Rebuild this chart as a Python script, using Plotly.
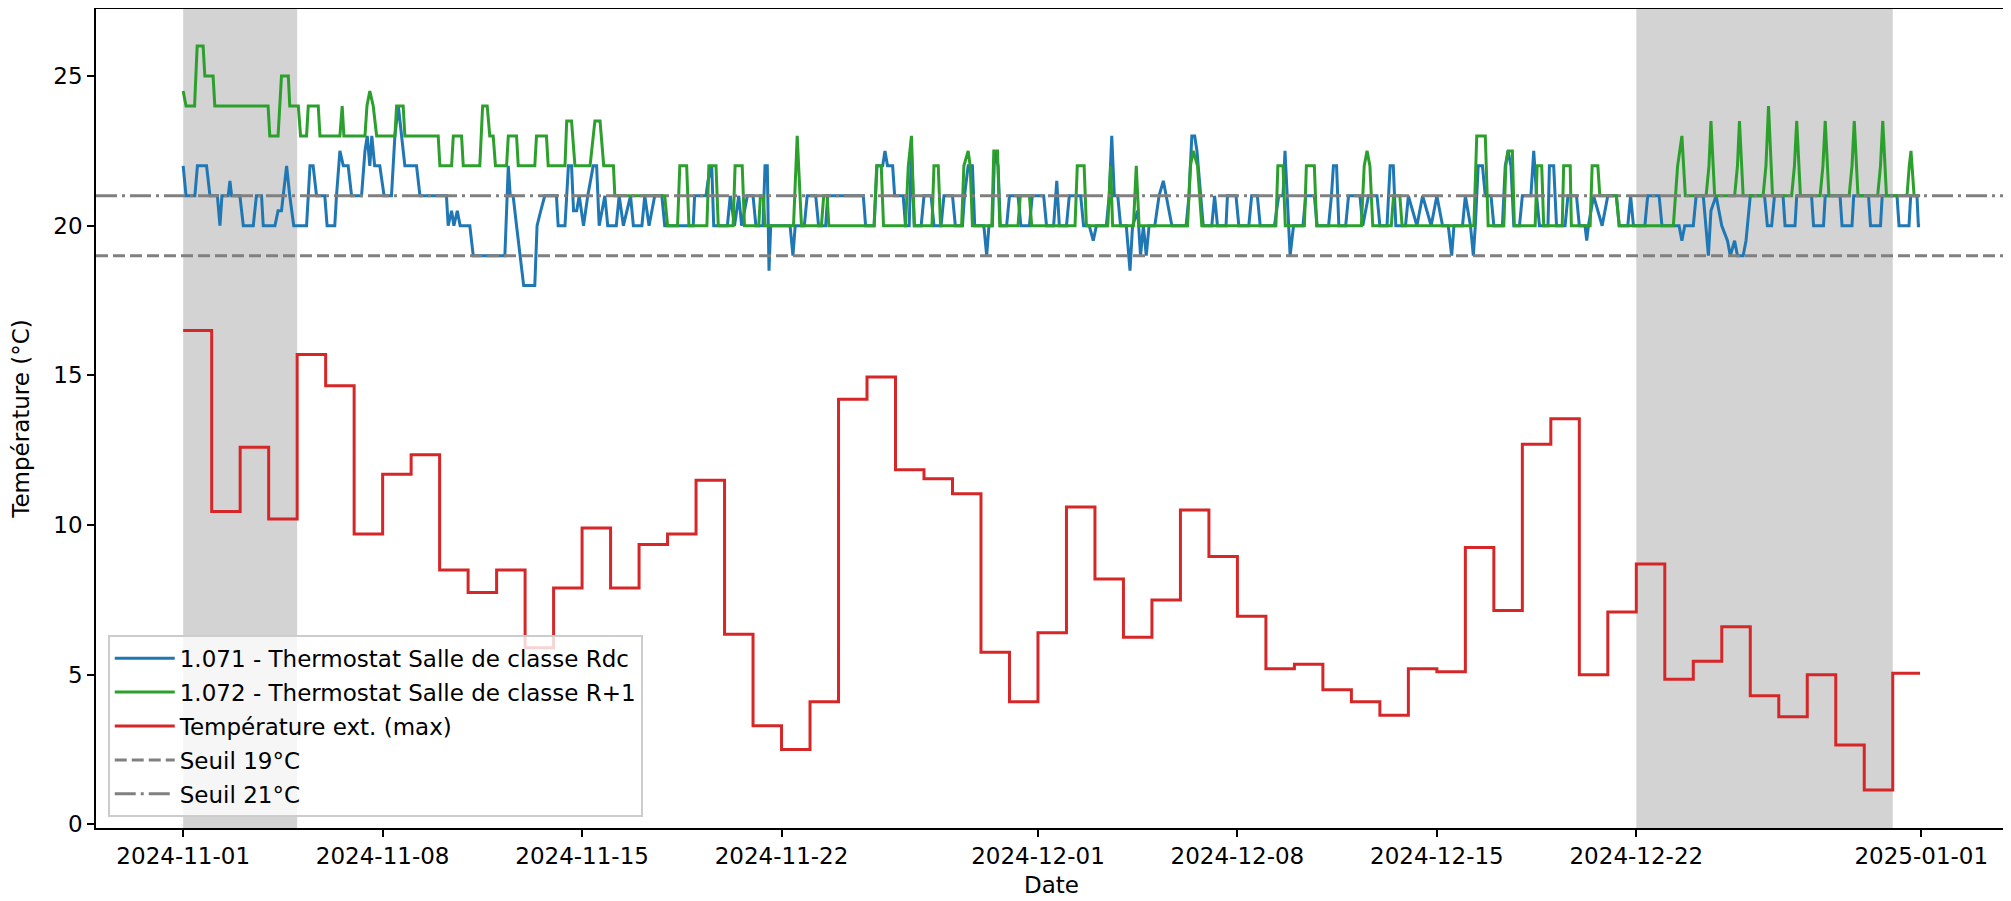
import pandas as pd
import plotly.graph_objects as go

START = pd.Timestamp("2024-11-01")

# (day offset from 2024-11-01, temperature °C)
rdc_points = [
    (0.00,22),(0.10,21),(0.41,21),(0.50,22),(0.82,22),(0.94,21),(1.20,21),(1.29,20),(1.36,21),(1.58,21),
    (1.64,21.5),(1.70,21),(1.99,21),(2.11,20),(2.46,20),(2.57,21),(2.75,21),(2.81,20),(3.22,20),(3.33,20.5),
    (3.45,20.5),(3.63,22),(3.74,21),(3.88,20),(4.33,20),(4.39,21),(4.45,22),(4.56,22),(4.68,21),(4.97,21),
    (5.05,20),(5.32,20),(5.38,21),(5.50,22.5),(5.62,22),(5.79,22),(5.91,21),(6.26,21),(6.38,22.5),(6.46,23),
    (6.55,22),(6.62,23),(6.72,22),(6.90,22),(7.05,21),(7.31,21),(7.43,23),(7.55,24),(7.66,23),(7.78,22),
    (8.19,22),(8.31,21),(9.24,21),(9.30,20),(9.42,20.5),(9.50,20),(9.62,20.5),(9.72,20),(10.06,20),(10.18,19),
    (11.29,19),(11.36,21),(11.41,22),(11.48,21),(11.58,21),(11.70,20),(11.82,19),(11.95,18),(12.34,18),(12.42,20),
    (12.55,20.5),(12.69,21),(13.10,21),(13.16,20),(13.40,20),(13.52,22),(13.63,22),(13.70,20.5),(13.81,20.5),(13.90,21),
    (14.05,20),(14.20,21),(14.39,22),(14.51,22),(14.60,20),(14.80,21),(14.90,20),(15.20,20),(15.30,21),(15.45,20),
    (15.70,21),(15.80,20),(16.10,20),(16.20,21),(16.35,20),(16.55,21),(16.80,21),(16.90,20),(17.90,20),(17.95,21),
    (18.35,21),(18.42,21.5),(18.55,22),(18.62,20),(19.10,20),(19.20,21),(19.35,20),(19.50,21),(19.60,20),(19.80,21),
    (20.00,21),(20.10,20),(20.35,20),(20.42,22),(20.50,22),(20.56,18.5),(20.62,20),(21.30,20),(21.40,19),(21.48,20),
    (21.80,20),(21.90,21),(22.20,21),(22.30,20),(22.55,20),(22.62,21),(23.87,21),(23.95,20),(24.25,20),(24.35,22),
    (24.55,22),(24.63,22.5),(24.72,22),(24.90,22),(24.97,21),(25.27,21),(25.35,20),(25.48,20),(25.56,22.5),(25.66,20),
    (25.90,20),(26.00,21),(26.25,21),(26.35,20),(26.60,20),(26.70,21),(27.00,21),(27.10,20),(27.35,20),(27.42,21),
    (27.55,22),(27.70,22),(27.78,20),(28.10,20),(28.20,19),(28.28,20),(28.40,20),(28.48,22.5),(28.60,22),(28.68,20),
    (28.90,20),(29.00,21),(29.30,21),(29.40,20),(29.70,20),(29.80,21),(30.20,21),(30.30,20),(30.55,20),(30.66,21.5),
    (30.75,20),(31.00,20),(31.10,21),(31.50,21),(31.60,20),(31.80,20),(31.94,19.5),(32.05,20),(32.40,20),(32.50,21),
    (32.59,23),(32.68,21),(32.80,21),(32.90,20),(33.10,20),(33.23,18.5),(33.32,20),(33.50,20.5),(33.60,19),(33.70,20),
    (33.80,19),(33.90,20),(34.10,20),(34.25,21),(34.40,21.5),(34.50,21),(34.70,20),(35.20,20),(35.30,21),(35.40,23),
    (35.50,23),(35.58,22.5),(35.70,21),(35.80,20),(36.10,20),(36.20,21),(36.30,20),(36.60,20),(36.65,21),(36.95,21),
    (37.05,20),(37.40,20),(37.50,21),(37.70,21),(37.80,20),(38.30,20),(38.45,21),(38.60,21),(38.67,22.5),(38.75,21),
    (38.85,19),(38.97,20),(39.30,20),(39.40,21),(39.70,21),(39.80,20),(40.20,20),(40.30,21),(40.37,22),(40.48,22),
    (40.56,20),(40.80,20),(40.90,21),(41.30,21),(41.40,20),(41.60,21),(41.90,21),(42.00,20),(42.25,20),(42.36,22),
    (42.47,22),(42.56,20),(42.90,20),(43.00,21),(43.30,20),(43.50,21),(43.80,20),(44.00,21),(44.20,20),(44.40,20),
    (44.52,19),(44.60,20),(44.90,20),(45.00,21),(45.18,20),(45.28,19),(45.35,20),(45.45,22),(45.60,22),(45.70,21),
    (45.90,21),(46.00,20),(46.30,20),(46.40,22),(46.50,22.5),(46.60,22),(46.70,20),(46.90,20),(47.00,21),(47.30,21),
    (47.40,22.5),(47.50,21),(47.60,20),(47.90,20),(47.95,22),(48.10,22),(48.20,20),(48.50,20),(48.60,21),(48.90,21),
    (49.00,20),(49.20,20),(49.26,19.5),(49.32,20),(49.50,21),(49.80,20),(50.00,21),(50.30,21),(50.40,20),(50.70,20),
    (50.80,21),(50.90,20),(51.30,20),(51.40,21),(51.80,21),(51.90,20),(52.50,20),(52.60,19.5),(52.70,20),(53.00,20),
    (53.10,21),(53.35,21),(53.45,20),(53.53,19),(53.62,20.5),(53.80,21),(54.00,20),(54.20,19.5),(54.30,19),(54.45,19.5),
    (54.55,19),(54.75,19),(54.85,19.5),(55.00,21),(55.50,21),(55.60,20),(55.75,20),(55.85,21),(56.15,21),(56.22,20),
    (56.57,20),(56.63,21),(57.15,21),(57.22,20),(57.57,20),(57.63,21),(58.15,21),(58.22,20),(58.57,20),(58.63,21),
    (59.15,21),(59.22,20),(59.57,20),(59.63,21),(60.15,21),(60.22,20),(60.57,20),(60.63,21),(60.85,21),(60.90,20),
    (60.96,20),
]

r1_points = [
    (0.00,24.5),(0.10,24),(0.40,24),(0.45,25),(0.49,26),(0.70,26),(0.76,25),(1.05,25),(1.11,24),(2.98,24),
    (3.04,23),(3.33,23),(3.45,25),(3.69,25),(3.74,24),(4.04,24),(4.12,23),(4.33,23),(4.39,24),(4.74,24),
    (4.80,23),(5.50,23),(5.58,24),(5.64,23),(6.38,23),(6.45,24),(6.55,24.5),(6.67,24),(6.79,23),(7.43,23),
    (7.49,24),(7.72,24),(7.78,23),(8.95,23),(9.01,22),(9.42,22),(9.48,23),(9.77,23),(9.83,22),(10.41,22),
    (10.51,24),(10.67,24),(10.76,23),(10.88,23),(10.96,22),(11.35,22),(11.41,23),(11.70,23),(11.76,22),(12.34,22),
    (12.40,23),(12.75,23),(12.81,22),(13.40,22),(13.46,23.5),(13.63,23.5),(13.75,22),(14.28,22),(14.45,23.5),(14.63,23.5),
    (14.76,22),(15.10,22),(15.15,21),(16.90,21),(17.00,20),(17.35,20),(17.43,22),(17.67,22),(17.75,20),(18.38,20),
    (18.45,22),(18.70,22),(18.78,20),(19.30,20),(19.37,22),(19.62,22),(19.70,20),(20.20,20),(20.26,21),(20.36,21),
    (20.42,20),(21.42,20),(21.55,23),(21.70,20),(22.40,20),(22.48,21),(22.60,21),(22.66,20),(24.25,20),(24.34,22),
    (24.50,22),(24.58,20),(25.35,20),(25.45,22),(25.56,23),(25.66,20),(26.28,20),(26.35,22),(26.50,22),(26.58,20),
    (27.32,20),(27.40,22),(27.55,22.5),(27.62,22),(27.70,20),(28.38,20),(28.45,22.5),(28.58,22.5),(28.66,20),(29.30,20),
    (29.38,21),(29.70,21),(29.78,20),(31.30,20),(31.38,22),(31.62,22),(31.70,20),(32.45,20),(32.55,22),(32.62,20),
    (33.35,20),(33.45,22),(33.55,20),(35.25,20),(35.35,22),(35.45,22.5),(35.60,22),(35.75,20),(38.35,20),(38.42,22),
    (38.60,22),(38.68,20),(39.35,20),(39.42,22),(39.70,22),(39.78,20),(41.35,20),(41.45,22),(41.55,22.5),(41.65,22),
    (41.75,20),(42.40,20),(42.48,21),(42.70,21),(42.78,20),(45.30,20),(45.40,23),(45.70,23),(45.80,20),(46.35,20),
    (46.42,22),(46.50,22.5),(46.65,22.5),(46.72,20),(47.45,20),(47.52,22),(47.68,22),(47.75,20),(48.40,20),(48.45,22),
    (48.68,22),(48.72,20),(49.38,20),(49.45,22),(49.65,22),(49.72,21),(50.30,21),(50.40,20),(52.30,20),(52.45,22),
    (52.60,23),(52.72,21),(53.45,21),(53.55,22),(53.62,23.5),(53.75,21),(54.45,21),(54.55,22),(54.62,23.5),(54.75,21),
    (55.45,21),(55.55,22),(55.64,24),(55.78,21),(56.45,21),(56.55,22),(56.63,23.5),(56.76,21),(57.45,21),(57.55,22),
    (57.63,23.5),(57.76,21),(58.47,21),(58.57,22),(58.65,23.5),(58.78,21),(59.47,21),(59.57,22),(59.65,23.5),(59.78,21),
    (60.50,21),(60.58,22),(60.64,22.5),(60.75,21),(60.96,21),
]

# daily maximum outdoor temperature, 2024-11-01 .. 2024-12-31
ext_max = [
    16.5, 10.45, 12.6, 10.2, 15.7, 14.65, 9.7, 11.7, 12.35, 8.5,
    7.75, 8.5, 5.9, 7.9, 9.9, 7.9, 9.35, 9.7, 11.5, 6.35,
    3.3, 2.5, 4.1, 14.2, 14.95, 11.85, 11.55, 11.05, 5.75, 4.1,
    6.4, 10.6, 8.2, 6.25, 7.5, 10.5, 8.95, 6.95, 5.2, 5.35,
    4.5, 4.1, 3.65, 5.2, 5.1, 9.25, 7.15, 12.7, 13.55, 5.0,
    7.1, 8.7, 4.85, 5.45, 6.6, 4.3, 3.6, 5.0, 2.65, 1.15,
    5.05,
]

date_ticks = ["2024-11-01", "2024-11-08", "2024-11-15", "2024-11-22",
              "2024-12-01", "2024-12-08", "2024-12-15", "2024-12-22", "2025-01-01"]
y_ticks = [0, 5, 10, 15, 20, 25]
vacances = [("2024-11-01", "2024-11-05"), ("2024-12-22", "2024-12-31")]
seuils = [(19, "Seuil 19°C", "12px,5px"), (21, "Seuil 21°C", "21px,5px,3px,5px")]

FONT = "DejaVu Sans"
FS = 23


def to_dates(days):
    return [START + pd.Timedelta(days=d) for d in days]


fig = go.Figure()

for x0, x1 in vacances:
    fig.add_shape(type="rect", xref="x", yref="y domain", x0=x0, x1=x1, y0=0, y1=1,
                  fillcolor="#d3d3d3", line_width=0, layer="below")

fig.add_trace(go.Scatter(
    x=to_dates([p[0] for p in rdc_points]), y=[p[1] for p in rdc_points],
    mode="lines", line=dict(color="#1f77b4", width=3),
    name="1.071 - Thermostat Salle de classe Rdc", legendrank=1, legendgroup="g1"))
fig.add_trace(go.Scatter(
    x=to_dates([p[0] for p in r1_points]), y=[p[1] for p in r1_points],
    mode="lines", line=dict(color="#2ca02c", width=3),
    name="1.072 - Thermostat Salle de classe R+1", legendrank=2, legendgroup="g2"))

ext_days = list(range(len(ext_max))) + [len(ext_max) - 1 + 23 / 24]
fig.add_trace(go.Scatter(
    x=to_dates(ext_days), y=ext_max + [ext_max[-1]],
    mode="lines", line=dict(color="#d62728", width=3, shape="hv"),
    name="Température ext. (max)", legendrank=3, legendgroup="g3"))

for i, (val, label, dash) in enumerate(seuils):
    fig.add_shape(type="line", xref="x domain", x0=0, x1=1, yref="y", y0=val, y1=val,
                  line=dict(color="#808080", width=3, dash=dash), layer="above",
                  showlegend=True, name=label, legendrank=4 + i, legendgroup=f"g{4+i}")

x_lo = START + pd.Timedelta(days=-3.06)
x_hi = START + pd.Timedelta(days=64.01)

axis_common = dict(showline=True, linecolor="black", linewidth=1.7, mirror=True,
                   ticks="outside", ticklen=7, tickwidth=1.7, tickcolor="black",
                   showgrid=False, zeroline=False, automargin=False,
                   tickfont=dict(family=FONT, size=FS, color="black"))

fig.update_xaxes(range=[x_lo, x_hi], tickvals=date_ticks, ticktext=date_ticks,
                 title=dict(text="Date", font=dict(family=FONT, size=FS, color="black"), standoff=8),
                 **axis_common)
fig.update_yaxes(range=[-0.12, 27.24], tickvals=y_ticks,
                 title=dict(text="Température (°C)", font=dict(family=FONT, size=FS, color="black"), standoff=20),
                 **axis_common)

# the page body adds an 8px offset, so the figure is 8px smaller on each axis
fig.update_layout(
    width=2003, height=893,
    margin=dict(l=88, r=4, t=1, b=73),
    paper_bgcolor="white", plot_bgcolor="white",
    font=dict(family=FONT, size=FS, color="black"),
    showlegend=True,
    legend=dict(x=0.0063, y=0.0134, xanchor="left", yanchor="bottom",
                bgcolor="rgba(255,255,255,0.8)", bordercolor="#cccccc", borderwidth=1.7,
                font=dict(family=FONT, size=FS, color="black"),
                traceorder="grouped", tracegroupgap=1, itemwidth=60,
                entrywidth=475, entrywidthmode="pixels"),
)

fig.write_html("out.html")
